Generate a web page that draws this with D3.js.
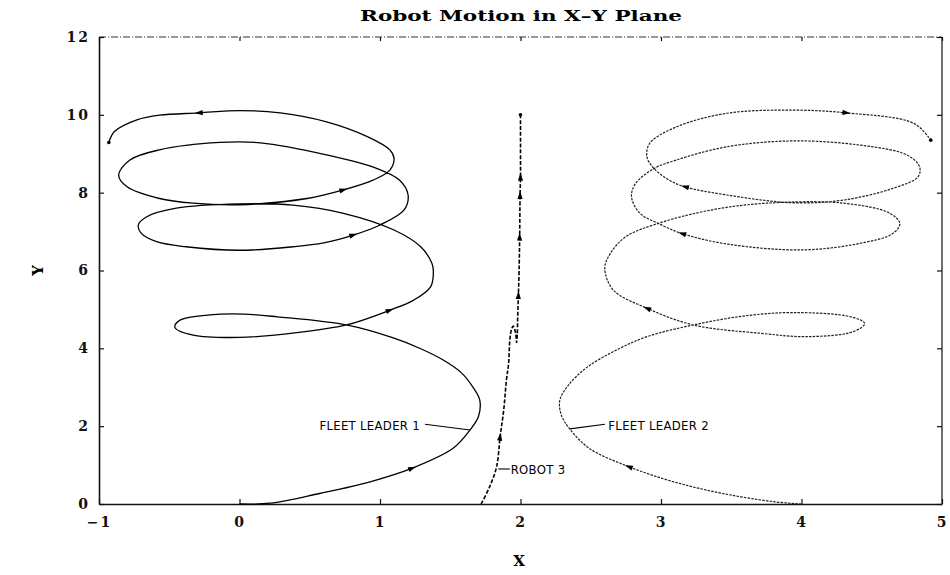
<!DOCTYPE html>
<html>
<head>
<meta charset="utf-8">
<script src="https://cdn.jsdelivr.net/npm/d3@7"></script>
<style>
  body { margin: 0; background: #fff; }
  svg { display: block; }
</style>
</head>
<body>
<svg id="chart" width="950" height="575"></svg>
<script>
// ---- axis ticks ----
const xTicks = [-1, 0, 1, 2, 3, 4, 5];
const yTicks = [0, 2, 4, 6, 8, 10, 12];

// ---- trajectories (x, y) in plane units ----
const leader1 = [
  [0.00, 0.00], [0.22, 0.02], [0.57, 0.27], [0.93, 0.57], [1.23, 0.92],
  [1.52, 1.43], [1.64, 1.90], [1.70, 2.24], [1.71, 2.67], [1.66, 3.01],
  [1.58, 3.37], [1.45, 3.70], [1.29, 3.99], [1.10, 4.26], [0.76, 4.60],
  [0.27, 4.81], [0.03, 4.88], [-0.21, 4.86], [-0.42, 4.73], [-0.46, 4.54],
  [-0.33, 4.34], [0.00, 4.28], [0.38, 4.39], [0.76, 4.60], [1.07, 4.98],
  [1.24, 5.24], [1.36, 5.58], [1.38, 5.97], [1.37, 6.18], [1.29, 6.61],
  [1.10, 7.04], [0.74, 7.47], [0.38, 7.68], [0.00, 7.71], [-0.45, 7.60],
  [-0.66, 7.38], [-0.72, 7.17], [-0.70, 6.96], [-0.59, 6.74], [-0.38, 6.61],
  [0.00, 6.52], [0.38, 6.61], [0.60, 6.71], [0.81, 6.91], [1.00, 7.17],
  [1.17, 7.55], [1.20, 7.94], [1.14, 8.32], [0.98, 8.62], [0.62, 8.97],
  [0.15, 9.28], [-0.14, 9.29], [-0.57, 9.10], [-0.78, 8.84], [-0.86, 8.45],
  [-0.80, 8.15], [-0.57, 7.85], [-0.33, 7.73], [0.00, 7.69], [0.48, 7.85],
  [0.74, 8.07], [0.95, 8.32], [1.07, 8.58], [1.10, 8.88], [1.07, 9.10],
  [0.91, 9.44], [0.62, 9.82], [0.29, 10.05], [0.00, 10.11], [-0.29, 10.05],
  [-0.57, 9.99], [-0.73, 9.87], [-0.89, 9.57], [-0.93, 9.29]
];
const leader1Arrows = [4, 24, 43, 60, 69];

const leader2 = [
  [4.00, 0.00], [3.80, 0.06], [3.44, 0.27], [3.09, 0.57], [2.77, 0.96],
  [2.49, 1.43], [2.35, 1.93], [2.29, 2.29], [2.28, 2.67], [2.34, 3.05],
  [2.48, 3.53], [2.69, 3.97], [2.90, 4.30], [3.23, 4.60], [3.59, 4.83],
  [3.94, 4.92], [4.35, 4.81], [4.45, 4.64], [4.37, 4.43], [4.04, 4.30],
  [3.70, 4.39], [3.23, 4.60], [2.90, 5.03], [2.66, 5.50], [2.60, 6.06],
  [2.64, 6.44], [2.75, 6.87], [2.98, 7.21], [3.35, 7.55], [3.75, 7.73],
  [4.30, 7.73], [4.63, 7.47], [4.70, 7.21], [4.65, 6.95], [4.42, 6.70],
  [4.01, 6.53], [3.47, 6.68], [3.15, 6.95], [2.98, 7.21], [2.85, 7.47],
  [2.79, 7.90], [2.82, 8.24], [2.95, 8.62], [3.11, 8.84], [3.47, 9.18],
  [3.94, 9.33], [4.42, 9.22], [4.75, 8.97], [4.84, 8.67], [4.83, 8.41],
  [4.65, 8.11], [4.30, 7.81], [3.94, 7.74], [3.47, 7.94], [3.17, 8.15],
  [3.06, 8.32], [2.95, 8.62], [2.90, 8.92], [2.92, 9.27], [3.11, 9.69],
  [3.47, 10.04], [3.94, 10.12], [4.32, 10.05], [4.80, 9.78], [4.92, 9.35]
];
const leader2Arrows = [4, 22, 37, 54, 62];

const robot3 = [
  [1.72, 0.00], [1.78, 0.44], [1.83, 0.96], [1.855, 1.73], [1.88, 2.40],
  [1.90, 3.19], [1.915, 3.60], [1.925, 4.25], [1.937, 4.50], [1.948, 4.57],
  [1.965, 4.40], [1.972, 4.15], [1.977, 4.35], [1.98, 4.80], [1.985, 5.37],
  [1.99, 6.00], [1.994, 6.87], [1.997, 7.94], [2.00, 8.41], [2.00, 9.00],
  [2.00, 10.00]
];
const robot3Arrows = [3, 14, 16, 17, 18];

// ---- labels ----
const labelLeader1 = { text: "FLEET LEADER 1", at: [1.285, 2.0], from: [1.32, 2.05], to: [1.641, 1.90], anchor: "end" };
const labelLeader2 = { text: "FLEET LEADER 2", at: [2.625, 2.0], from: [2.601, 2.05], to: [2.352, 1.93], anchor: "start" };
const labelRobot3  = { text: "ROBOT 3",        at: [1.93, 0.86],  from: [1.925, 0.90], to: [1.842, 0.90], anchor: "start" };

// ---- layout ----
const svg = d3.select("#chart");
const padL = 99, padR = 942, padT = 37, padB = 504;
const x = d3.scaleLinear().domain([-1, 5]).range([padL, padR]);
const y = d3.scaleLinear().domain([0, 12]).range([padB, padT]);

const serif = "'DejaVu Serif', 'Liberation Serif', serif";
const condensed = "'DejaVu Sans Condensed', 'DejaVu Sans', Roboto, sans-serif";

// title
svg.append("text")
  .attr("x", 521).attr("y", 21)
  .attr("text-anchor", "middle")
  .attr("font-family", serif).attr("font-weight", "bold").attr("font-size", 15.5)
  .attr("textLength", 322).attr("lengthAdjust", "spacingAndGlyphs")
  .text("Robot Motion in X\u2013Y Plane");

// frame: dashed top border, solid right border
svg.append("line").attr("x1", padL).attr("x2", padR).attr("y1", padT).attr("y2", padT)
  .attr("stroke", "#333").attr("stroke-width", 1).attr("stroke-dasharray", "7,2,1,2");
svg.append("line").attr("x1", padR).attr("x2", padR).attr("y1", padT).attr("y2", padB)
  .attr("stroke", "#111").attr("stroke-width", 1.2);

// axes (ticks drawn inward)
const gx = svg.append("g").attr("transform", `translate(0,${padB})`)
  .call(d3.axisBottom(x).tickValues(xTicks).tickSizeInner(-5).tickSizeOuter(0).tickPadding(13)
    .tickFormat(d => d < 0 ? "\u2212" + Math.abs(d) : d));
const gy = svg.append("g").attr("transform", `translate(${padL},0)`)
  .call(d3.axisLeft(y).tickValues(yTicks).tickSizeInner(-5).tickSizeOuter(0).tickPadding(9));
const gt = svg.append("g").attr("transform", `translate(0,${padT})`)
  .call(d3.axisTop(x).tickValues(xTicks).tickSizeInner(-4).tickSizeOuter(0).tickFormat(""));
const gr = svg.append("g").attr("transform", `translate(${padR},0)`)
  .call(d3.axisRight(y).tickValues(yTicks).tickSizeInner(-5).tickSizeOuter(0).tickFormat(""));

svg.selectAll(".domain").attr("stroke", "#111").attr("stroke-width", 1.6);
gt.select(".domain").attr("stroke", "none");
gr.select(".domain").attr("stroke", "none");
svg.selectAll(".tick line").attr("stroke", "#111").attr("stroke-width", 1.2);
svg.selectAll(".tick text")
  .attr("font-family", serif).attr("font-weight", "bold").attr("font-size", 14)
  .attr("letter-spacing", 2).attr("fill", "#111");

// axis titles
svg.append("text").attr("x", 519).attr("y", 566).attr("text-anchor", "middle")
  .attr("font-family", serif).attr("font-weight", "bold").attr("font-size", 15).text("X");
svg.append("text").attr("transform", `translate(43,${(padT + padB) / 2}) rotate(-90)`)
  .attr("text-anchor", "middle")
  .attr("font-family", serif).attr("font-weight", "bold").attr("font-size", 15).text("Y");

// trajectories
const line = d3.line().x(d => x(d[0])).y(d => y(d[1])).curve(d3.curveCatmullRom.alpha(0.5));
const plot = svg.append("g");

plot.append("path").datum(leader1).attr("d", line)
  .attr("fill", "none").attr("stroke", "#000").attr("stroke-width", 1.3);
plot.append("path").datum(leader2).attr("d", line)
  .attr("fill", "none").attr("stroke", "#222").attr("stroke-width", 1.2)
  .attr("stroke-dasharray", "2.5,1.2");
plot.append("path").datum(robot3).attr("d", line)
  .attr("fill", "none").attr("stroke", "#000").attr("stroke-width", 1.6)
  .attr("stroke-dasharray", "4,1.8");

// direction arrowheads along each path
function arrows(data, idx) {
  idx.forEach(i => {
    const a = data[Math.max(0, i - 1)], b = data[Math.min(data.length - 1, i + 1)];
    const ang = Math.atan2(y(b[1]) - y(a[1]), x(b[0]) - x(a[0])) * 180 / Math.PI;
    plot.append("path")
      .attr("d", "M4,0 L-4,-2.6 L-4,2.6 Z")
      .attr("transform", `translate(${x(data[i][0])},${y(data[i][1])}) rotate(${ang})`)
      .attr("fill", "#000");
  });
}
arrows(leader1, leader1Arrows);
arrows(leader2, leader2Arrows);
arrows(robot3, robot3Arrows);

// end points
[leader1[leader1.length - 1], leader2[leader2.length - 1], robot3[robot3.length - 1]].forEach(p => {
  plot.append("circle").attr("cx", x(p[0])).attr("cy", y(p[1])).attr("r", 1.8).attr("fill", "#000");
});

// annotations
[labelLeader1, labelLeader2, labelRobot3].forEach(l => {
  plot.append("line")
    .attr("x1", x(l.from[0])).attr("y1", y(l.from[1]))
    .attr("x2", x(l.to[0])).attr("y2", y(l.to[1]))
    .attr("stroke", "#000").attr("stroke-width", 1.1);
  plot.append("text")
    .attr("x", x(l.at[0])).attr("y", y(l.at[1]))
    .attr("text-anchor", l.anchor).attr("dominant-baseline", "middle")
    .attr("font-family", condensed).attr("font-size", 13).attr("letter-spacing", 0.3)
    .attr("fill", "#000")
    .text(l.text);
});
</script>
</body>
</html>
